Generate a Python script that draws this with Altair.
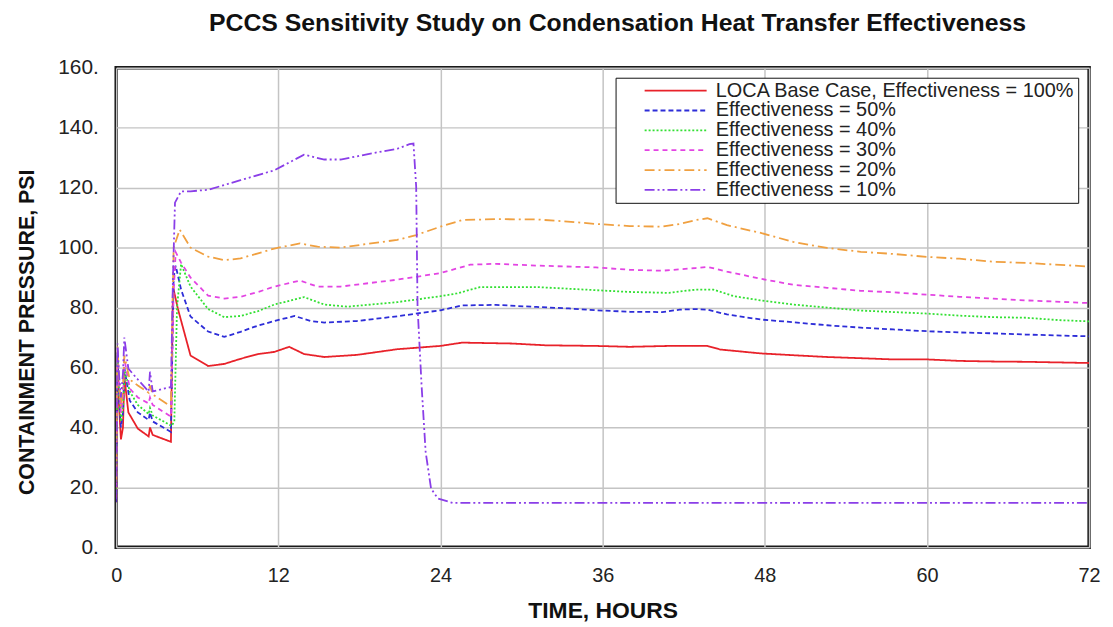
import altair as alt
import pandas as pd

# ---- data ----
series_names = [
    "LOCA Base Case, Effectiveness = 100%",
    "Effectiveness = 50%",
    "Effectiveness = 40%",
    "Effectiveness = 30%",
    "Effectiveness = 20%",
    "Effectiveness = 10%",
]
series_colors = ["#e8222a", "#2d2dd8", "#33e033", "#e344e3", "#f0a040", "#8a3ee8"]
series_dash = [[1, 0], [5, 3], [2, 2], [5, 4], [10, 4, 2, 4], [10, 3, 2, 3, 2, 3]]

t_100 = [0, 0.05, 0.1, 0.2, 0.35, 0.5, 0.6, 0.9, 1.6, 2.4, 2.5, 2.7, 4.05, 4.2, 4.57, 5.5, 6.8, 8.0,
         9.2, 10.5, 11.7, 12.8, 13.9, 15.4, 17.8, 20.8, 24.0, 25.6, 29.3, 31.8, 35.5, 38.0, 40.9, 42.9,
         43.75, 44.7, 47.7, 50.1, 52.6, 55.1, 57.5, 60.0, 62.4, 64.9, 67.3, 72.0]
p_100 = [15, 45, 62, 48, 36, 40, 57, 45, 39.6, 37, 40, 37.5, 35.2, 87, 79.5, 64, 60.5, 61.2,
         62.9, 64.5, 65.2, 66.9, 64.5, 63.5, 64.2, 66.1, 67.2, 68.3, 68.0, 67.4, 67.2, 66.9, 67.2, 67.2,
         67.2, 66.0, 64.7, 64.1, 63.5, 63.1, 62.7, 62.7, 62.2, 62.0, 61.9, 61.5]

t_50 = [0, 0.05, 0.1, 0.2, 0.35, 0.5, 0.6, 1.0, 1.6, 2.4, 2.5, 2.7, 4.05, 4.25, 4.4, 4.8, 5.5, 6.8,
        8.0, 9.2, 10.5, 11.7, 13.2, 14.4, 15.4, 17.8, 20.8, 24.0, 25.6, 28.1, 31.1, 33.5, 35.5, 38.0,
        40.4, 41.7, 42.9, 43.75, 45.2, 47.7, 50.1, 52.6, 55.1, 57.5, 60.0, 62.4, 64.9, 67.3, 72.0]
p_50 = [15, 50, 64, 50, 40, 45, 60, 49, 45, 42.5, 45, 42, 38.5, 90, 94, 86, 77, 72,
        70.2, 71.9, 74, 75.5, 77.2, 75.5, 75, 75.5, 77.1, 79.1, 80.7, 80.9, 80.2, 79.7, 79.1, 78.6,
        78.5, 79.3, 79.5, 79.3, 77.7, 76.0, 75.1, 74.1, 73.3, 72.7, 72.1, 71.7, 71.4, 71.0, 70.4]

t_40 = [0, 0.05, 0.1, 0.2, 0.35, 0.5, 0.65, 1.0, 1.6, 2.4, 2.5, 2.7, 4.1, 4.3, 4.5, 4.8, 5.5, 6.8,
        8.0, 9.2, 10.5, 11.7, 13.9, 15.4, 17.1, 20.8, 24.0, 25.2, 26.9, 31.3, 35.5, 38.0, 40.9, 42.9,
        44.2, 45.7, 47.7, 50.1, 52.6, 55.1, 57.5, 60.0, 62.4, 64.9, 67.3, 69.8, 72.0]
p_40 = [18, 52, 65, 52, 42, 47, 59, 52, 47.5, 44.5, 46.5, 44, 40.5, 42, 80, 94.5, 87, 79.5,
        76.8, 77.2, 78.8, 81, 83.5, 81, 80.3, 81.8, 83.8, 84.7, 86.8, 86.8, 85.8, 85.2, 84.9, 86.0,
        86.0, 83.8, 82.4, 81.0, 80.0, 79.0, 78.5, 78.0, 77.3, 76.8, 76.6, 75.8, 75.4]

t_30 = [0, 0.05, 0.1, 0.2, 0.35, 0.5, 0.6, 1.0, 1.6, 2.4, 2.5, 2.7, 4.05, 4.25, 4.4, 4.8, 5.5, 6.8,
        8.0, 9.2, 10.5, 11.7, 13.6, 14.9, 16.6, 20.8, 24.0, 26.2, 28.1, 31.1, 35.5, 38.0, 40.4, 42.9,
        43.75, 45.2, 47.7, 50.1, 52.6, 55.1, 57.5, 60.0, 62.4, 64.9, 67.3, 72.0]
p_30 = [20, 55, 66, 55, 45, 50, 63, 53, 50, 48, 50, 47.5, 43.6, 85, 98.5, 95, 90, 84,
        83, 83.6, 85.2, 87, 89, 87, 87, 89.3, 91.5, 94.3, 94.6, 94.0, 93.4, 92.6, 92.3, 93.2,
        93.6, 92.0, 89.6, 87.6, 86.6, 85.6, 85.1, 84.3, 83.6, 83.0, 82.4, 81.5]

t_20 = [0, 0.05, 0.1, 0.2, 0.35, 0.5, 0.6, 1.0, 1.6, 2.4, 2.5, 2.7, 4.05, 4.25, 4.7, 5.5, 6.8, 8.0,
        9.2, 10.5, 11.7, 13.6, 14.9, 16.6, 20.8, 22.2, 24.0, 25.6, 28.1, 31.1, 33.1, 35.5, 38.0, 40.4,
        41.7, 42.9, 43.75, 45.2, 47.7, 50.1, 52.6, 55.1, 57.5, 60.0, 62.4, 64.9, 67.3, 72.0]
p_20 = [22, 58, 67, 57, 47, 53, 64, 56, 54, 51.6, 54, 51, 47, 100, 106, 100, 97, 95.8,
        96.4, 98.1, 99.7, 101.4, 100.3, 100, 102.6, 104.2, 107.0, 109.2, 109.5, 109.4, 108.8, 107.9, 107.2, 107.0,
        107.9, 109.2, 109.8, 107.5, 104.9, 101.9, 99.9, 98.6, 97.9, 96.9, 96.3, 95.3, 94.9, 93.7]

t_10 = [0, 0.05, 0.1, 0.2, 0.35, 0.5, 0.6, 0.9, 1.6, 2.4, 2.5, 2.7, 4.05, 4.2, 4.35, 4.8, 5.5, 6.8,
        9.2, 11.7, 13.9, 15.4, 16.6, 19.1, 20.8, 21.7, 22.0, 22.2, 22.3, 22.6, 22.9, 23.3, 23.8, 24.9,
        36.0, 48.0, 60.0, 72.0]
p_10 = [16, 60, 68, 58, 50, 58, 70, 59.6, 56, 52, 58.6, 52, 53.5, 90, 115, 118.8, 118.8, 119.3,
        122.5, 125.8, 131, 129.4, 129.4, 131.6, 133.0, 134.5, 134.7, 120.3, 80.4, 53.9, 31.8, 19.6, 16.3, 14.8,
        14.8, 14.8, 14.8, 14.8]

x_ticks = [0, 12, 24, 36, 48, 60, 72]
y_ticks = [0, 20, 40, 60, 80, 100, 120, 140, 160]

series_t = [t_100, t_50, t_40, t_30, t_20, t_10]
series_p = [p_100, p_50, p_40, p_30, p_20, p_10]

rows = []
for name, ts, ps in zip(series_names, series_t, series_p):
    for i, (t, p) in enumerate(zip(ts, ps)):
        rows.append({"series": name, "t": t, "p": p, "i": i})
df = pd.DataFrame(rows)

FONT = "Liberation Sans"

legend = alt.Legend(
    title=None,
    orient="none",
    legendX=503,
    legendY=10,
    symbolType="stroke",
    symbolSize=3900,
    symbolStrokeWidth=1.8,
    symbolOffset=25,
    clipHeight=20,
    labelFont=FONT,
    labelFontSize=20,
    labelColor="#222222",
    labelOffset=8,
    labelLimit=0,
    rowPadding=0,
    padding=3,
    strokeColor="#111111",
    fillColor="white",
)

chart = (
    alt.Chart(df)
    .mark_line(strokeWidth=1.8, clip=True)
    .encode(
        x=alt.X(
            "t:Q",
            scale=alt.Scale(domain=[0, 72], nice=False, zero=False),
            axis=alt.Axis(
                values=x_ticks,
                title="TIME, HOURS",
                titleFont=FONT,
                titleFontSize=23,
                titleFontWeight="bold",
                titleColor="#111111",
                titleBaseline="middle",
                titleY=64,
                labelFont=FONT,
                labelFontSize=20,
                labelColor="#222222",
                labelPadding=18,
                ticks=False,
                domain=False,
                grid=True,
                gridColor="#c4c4c4",
                gridWidth=1.5,
                labelFlush=False,
            ),
        ),
        y=alt.Y(
            "p:Q",
            scale=alt.Scale(domain=[0, 160], nice=False),
            axis=alt.Axis(
                values=y_ticks,
                labelExpr="format(datum.value, 'd') + '.'",
                title="CONTAINMENT  PRESSURE, PSI",
                titleFont=FONT,
                titleFontSize=21.5,
                titleFontWeight="bold",
                titleColor="#111111",
                titleAngle=-90,
                titleAlign="center",
                titleBaseline="middle",
                titleX=-89,
                titleY=266,
                labelFont=FONT,
                labelFontSize=21,
                labelColor="#222222",
                labelPadding=18,
                ticks=False,
                domain=False,
                grid=True,
                gridColor="#c4c4c4",
                gridWidth=1.5,
            ),
        ),
        color=alt.Color(
            "series:N",
            scale=alt.Scale(domain=series_names, range=series_colors),
            sort=series_names,
            legend=legend,
        ),
        strokeDash=alt.StrokeDash(
            "series:N",
            scale=alt.Scale(domain=series_names, range=series_dash),
            sort=series_names,
            legend=legend,
        ),
        order="i:Q",
        detail="series:N",
    )
    .properties(
        width=980,
        height=483,
        padding={"left": 109, "top": 58, "right": 16, "bottom": 75},
        autosize=alt.AutoSizeParams(type="none"),
        title=alt.Title(
            "PCCS Sensitivity Study on Condensation Heat Transfer Effectiveness",
            font=FONT,
            fontSize=25,
            fontWeight="bold",
            color="#111111",
            anchor="middle",
            frame="group",
            offset=21,
            dx=15,
        ),
    )
    .configure_view(stroke="#1a1a1a", strokeWidth=3.5)
)

chart.save("out.html", embed_options={"renderer": "svg", "actions": False})
